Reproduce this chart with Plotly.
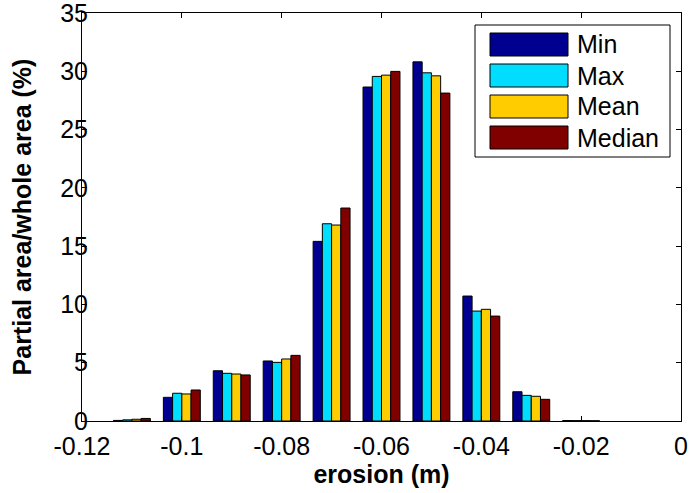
import plotly.graph_objects as go

# Erosion bins (m) and share of area (%) per statistic
erosion_bins = [-0.11, -0.10, -0.09, -0.08, -0.07, -0.06, -0.05, -0.04, -0.03, -0.02]
min_pct = [0.05, 2.03, 4.31, 5.15, 15.41, 28.65, 30.81, 10.72, 2.51, 0.04]
max_pct = [0.10, 2.38, 4.09, 5.03, 16.92, 29.56, 29.87, 9.43, 2.20, 0.03]
mean_pct = [0.15, 2.32, 4.03, 5.32, 16.81, 29.67, 29.61, 9.58, 2.12, 0.03]
median_pct = [0.22, 2.66, 3.95, 5.63, 18.27, 29.99, 28.13, 9.00, 1.86, 0.02]

series_names = ["Min", "Max", "Mean", "Median"]
series_values = [min_pct, max_pct, mean_pct, median_pct]
series_colors = ["#000090", "#00DDFF", "#FFCC00", "#800000"]

x_tick_vals = [-0.12, -0.10, -0.08, -0.06, -0.04, -0.02, 0.0]
x_tick_text = ["-0.12", "-0.1", "-0.08", "-0.06", "-0.04", "-0.02", "0"]
y_tick_vals = [0, 5, 10, 15, 20, 25, 30, 35]

W, H = 689, 493
L, R, T, B = 82, 8, 13, 72
FONT = "Liberation Sans, Arial, Helvetica, sans-serif"
FS = 25

fig = go.Figure()
for name, vals, col in zip(series_names, series_values, series_colors):
    fig.add_trace(go.Bar(
        x=erosion_bins, y=vals, name=name,
        marker=dict(color=col, line=dict(color="black", width=1)),
        showlegend=False,
    ))

# MATLAB-style boxed legend built from shapes and text (pixel layout -> paper)
pw, ph = W - L - R, H - T - B


def px(xp):
    return (xp - L) / pw


def py(yp):
    return (H - B - yp) / ph


shapes = [dict(type="rect", xref="paper", yref="paper",
               x0=px(475), x1=px(670), y0=py(157), y1=py(25),
               line=dict(color="black", width=1), fillcolor="white", layer="above")]
annotations = []
for i, (name, col) in enumerate(zip(series_names, series_colors)):
    top = 33 + i * 31
    shapes.append(dict(type="rect", xref="paper", yref="paper",
                       x0=px(490), x1=px(568), y0=py(top + 23), y1=py(top),
                       line=dict(color="black", width=1), fillcolor=col, layer="above"))
    annotations.append(dict(xref="paper", yref="paper", x=px(575), y=py(top + 11.5),
                            text=name, showarrow=False, xanchor="left", yanchor="middle",
                            font=dict(family=FONT, size=FS, color="black")))

axis_common = dict(
    showline=True, linecolor="black", linewidth=1, mirror="ticks",
    ticks="inside", ticklen=5, tickcolor="black", showgrid=False, zeroline=False,
    ticklabeloverflow="allow", automargin=False,
    tickfont=dict(family=FONT, size=FS, color="black"),
)

fig.update_layout(
    width=W, height=H,
    margin=dict(l=L, r=R, t=T, b=B, autoexpand=False),
    paper_bgcolor="white", plot_bgcolor="white",
    barmode="group", bargap=0.26, bargroupgap=0,
    showlegend=False,
    shapes=shapes, annotations=annotations,
    xaxis=dict(range=[-0.12, 0], tickvals=x_tick_vals, ticktext=x_tick_text,
               ticklabelstandoff=3,
               title=dict(text="<b>erosion (m)</b>", standoff=2,
                          font=dict(family=FONT, size=FS, color="black")),
               **axis_common),
    yaxis=dict(range=[0, 35], tickvals=y_tick_vals, ticklabelstandoff=-12,
               title=dict(text="<b>Partial area/whole area (%)</b>", standoff=21,
                          font=dict(family=FONT, size=FS, color="black")),
               **axis_common),
)

fig.write_html("out.html")
